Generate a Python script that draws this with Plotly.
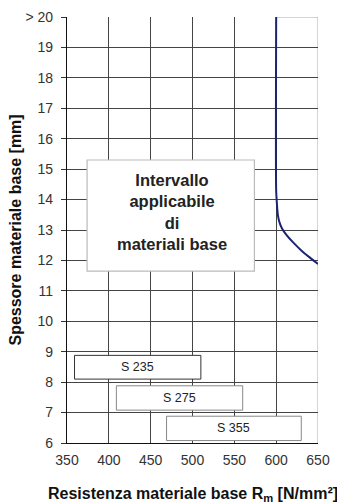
import plotly.graph_objects as go

# Data
x_ticks = [350, 400, 450, 500, 550, 600, 650]
y_ticks = [6, 7, 8, 9, 10, 11, 12, 13, 14, 15, 16, 17, 18, 19, 20]
y_tick_labels = ["6", "7", "8", "9", "10", "11", "12", "13", "14", "15", "16", "17", "18", "19", "> 20"]

curve_x = [600, 600, 600.8, 602, 604, 607, 612, 620, 630, 640, 650]
curve_y = [20, 14.3, 13.9, 13.5, 13.25, 13.05, 12.85, 12.6, 12.33, 12.1, 11.88]

steel_names = ["S 235", "S 275", "S 355"]
steel_x0 = [359, 409, 469]
steel_x1 = [510, 560, 630]
steel_y0 = [8.1, 7.08, 6.08]
steel_y1 = [8.88, 7.88, 6.88]
steel_border = ["#333333", "#888888", "#888888"]

range_box = [374, 574, 11.65, 15.3]
range_text = "Intervallo<br>applicabile<br>di<br>materiali base"

FONT = "Liberation Sans, Arial, sans-serif"

fig = go.Figure()

fig.add_trace(go.Scatter(x=curve_x, y=curve_y, mode="lines",
                         line=dict(color="#1c2470", width=2, shape="spline", smoothing=0.7),
                         showlegend=False, hoverinfo="skip"))

shapes = []
shapes.append(dict(type="line", xref="x", yref="y", x0=650, x1=650, y0=6, y1=20,
                   line=dict(color="#aaaaaa", width=1), layer="below"))
shapes.append(dict(type="line", xref="x", yref="y", x0=600, x1=650, y0=20, y1=20,
                   line=dict(color="#aaaaaa", width=1), layer="below"))

shapes.append(dict(type="rect", xref="x", yref="y", x0=range_box[0], x1=range_box[1],
                   y0=range_box[2], y1=range_box[3], fillcolor="white",
                   line=dict(color="#bbbbbb", width=1.2), layer="above"))
for i, name in enumerate(steel_names):
    shapes.append(dict(type="rect", xref="x", yref="y", x0=steel_x0[i], x1=steel_x1[i],
                       y0=steel_y0[i], y1=steel_y1[i], fillcolor="white",
                       line=dict(color=steel_border[i], width=1), layer="above"))

annotations = []
annotations.append(dict(x=475, y=13.59,
                        xref="x", yref="y", text="<b>" + range_text + "</b>", showarrow=False,
                        font=dict(family=FONT, size=16.5, color="#222222"), align="center"))
for i, name in enumerate(steel_names):
    annotations.append(dict(x=(steel_x0[i] + steel_x1[i]) / 2, y=(steel_y0[i] + steel_y1[i]) / 2,
                            xref="x", yref="y", text=name, showarrow=False,
                            font=dict(family=FONT, size=12.5, color="#222222")))
annotations.append(dict(x=-0.209, y=0.5, xref="paper", yref="paper", xanchor="center", yanchor="middle",
                        text="<b>Spessore materiale base [mm]</b>", textangle=-90, showarrow=False,
                        font=dict(family=FONT, size=16, color="#111111")))
annotations.append(dict(x=0.503, y=-0.122, xref="paper", yref="paper", xanchor="center", yanchor="middle",
                        text="<b>Resistenza materiale base R<sub>m</sub> [N/mm²]</b>", showarrow=False,
                        font=dict(family=FONT, size=16, color="#111111")))

# page body has an 8px margin, so the figure is sized and offset to compensate
fig.update_layout(
    width=337, height=496,
    margin=dict(l=58.5, r=27, t=8.7, b=61, autoexpand=False),
    plot_bgcolor="white", paper_bgcolor="white",
    showlegend=False,
    shapes=shapes, annotations=annotations,
    font=dict(family=FONT, size=14, color="#333333"),
    xaxis=dict(range=[350, 650], tickvals=x_ticks, ticktext=[str(v) for v in x_ticks],
               showgrid=True, gridcolor="#444444", gridwidth=1, zeroline=False,
               showline=True, linecolor="#111111", linewidth=1.2, ticks="", ticklen=0,
               ticklabelstandoff=4,
               tickfont=dict(family=FONT, size=14, color="#333333"), fixedrange=True),
    yaxis=dict(range=[6, 20], tickvals=y_ticks, ticktext=y_tick_labels,
               showgrid=True, gridcolor="#444444", gridwidth=1, zeroline=False,
               showline=True, linecolor="#111111", linewidth=1.2, ticks="outside", ticklen=5,
               tickcolor="#333333", ticklabelstandoff=5,
               tickfont=dict(family=FONT, size=14, color="#333333"), fixedrange=True),
)

fig.write_html("out.html")
